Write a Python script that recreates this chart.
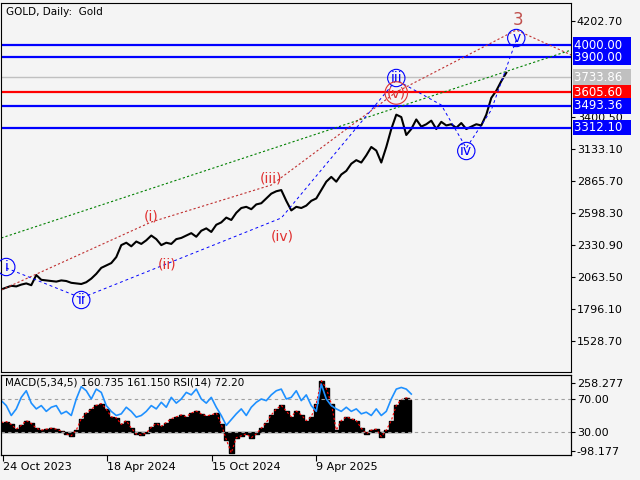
import numpy as np, pandas as pd, matplotlib
matplotlib.use("Agg")
import matplotlib.pyplot as plt, seaborn as sns

price = [1960,1975,1990,1985,2000,2010,1995,2080,2040,2035,2030,
 2025,2035,2030,2015,2010,2005,2020,2050,2090,2140,
 2160,2180,2230,2330,2350,2320,2360,2340,2370,2410,
 2380,2330,2350,2340,2380,2390,2410,2430,2400,2450,
 2470,2440,2500,2520,2560,2540,2600,2640,2650,2630,
 2670,2680,2720,2760,2780,2790,2700,2620,2650,2640,
 2660,2700,2720,2790,2860,2900,2860,2920,2950,3010,
 3040,3020,3080,3150,3120,3020,3150,3300,3420,3400,
 3250,3300,3380,3320,3340,3370,3300,3360,3330,3340,
 3310,3350,3300,3320,3340,3330,3420,3560,3620,3700,3770]
macd = [50,55,40,15,35,60,45,20,10,15,20,15,5,-10,-20,10,70,100,120,140,150,120,80,75,40,60,20,-10,-15,-5,
 25,45,30,50,70,80,90,80,100,110,95,85,90,100,40,-40,-110,-30,-20,-10,-30,-10,20,50,90,120,140,110,80,110,
 90,60,80,150,270,230,150,10,60,80,70,60,20,-10,10,15,-25,10,60,140,170,180,170]
rsi = [68,62,50,58,72,80,65,58,62,55,60,62,52,55,50,70,85,80,70,82,78,62,55,50,52,60,55,48,50,55,
 62,58,66,60,72,65,70,78,75,82,70,65,72,60,50,38,45,52,58,50,60,66,70,68,75,80,82,70,72,80,
 68,75,62,55,88,70,62,58,55,60,55,58,52,54,50,58,50,55,70,82,84,82,76]
hlines = [4000.00, 3900.00, 3605.60, 3493.36, 3312.10]
hcolors = ["#0000ff","#0000ff","#ff0000","#0000ff","#0000ff"]
last_price = 3733.86
yticks = [4202.70, 3400.50, 3133.10, 2865.70, 2598.30, 2330.90, 2063.50, 1796.10, 1528.70]
date_labels = ["24 Oct 2023", "18 Apr 2024", "15 Oct 2024", "9 Apr 2025"]
date_pos = [2, 106, 211, 315]

BG = "#f4f4f4"
def P(ypx):  # pixel row -> price
    return 4202.7 - (ypx - 21) * 8.356

fig = plt.figure(figsize=(6.4, 4.8), dpi=100, facecolor=BG)
ax = fig.add_axes([0.002, 1-372/480, 570/640, 369/480], facecolor=BG)
ax.set_xlim(0, 570); ax.set_ylim(P(372), P(3))
df = pd.DataFrame({"x": np.arange(len(price))*5, "p": price})
sns.lineplot(data=df, x="x", y="p", ax=ax, color="black", lw=1.5)
ax.axhline(last_price, color="#c0c0c0", lw=1)
for v, c in zip(hlines, hcolors):
    ax.axhline(v, color=c, lw=1.6)
def pl(pts, **kw):
    xs=[p[0] for p in pts]; ys=[P(p[1]) for p in pts]; ax.plot(xs, ys, **kw)
pl([(0,238),(570,50)], color="green", ls=(0,(2,2)), lw=0.8)
pl([(0,290),(150,222),(270,185),(395,92),(515,30),(570,55)], color="#c03030", ls=(0,(2,2)), lw=0.8)
pl([(5,268),(80,298),(280,218),(395,80),(440,105),(465,148),(490,110),(515,40)], color="blue", ls=(0,(3,3)), lw=0.7)
def lab(x, y, t, c, circ=False, fs=10):
    kw = dict(boxstyle="circle,pad=0.12", fc="none", ec=c, lw=0.8) if circ else None
    ax.text(x, P(y), t, color=c, ha="center", va="center", fontsize=fs, bbox=kw)
lab(5,267,"i","blue",True); lab(80,300,"ii","blue",True); lab(395,78,"iii","blue",True)
lab(465,151,"iv","blue",True); lab(515,38,"v","blue",True)
lab(150,216,"(i)","#e03030"); lab(166,265,"(ii)","#e03030"); lab(270,178,"(iii)","#e03030")
lab(281,236,"(iv)","#e03030"); lab(395,93,"(v)","#e03030",True)
lab(517,20,"3","#c0504d",fs=12)
ax.text(5, P(12), "GOLD, Daily:  Gold", fontsize=7.5, va="center")
ax.yaxis.tick_right(); ax.set_yticks(yticks)
ax.set_yticklabels([f"{v:.2f}" for v in yticks], fontsize=8)
ax.tick_params(axis="y", length=3, pad=1); ax.set_xticks([])
ax.set_xlabel(""); ax.set_ylabel("")
for v, c in [(4000.00,"#0000ff"),(3900.00,"#0000ff"),(last_price,"#c0c0c0"),(3605.60,"#ff0000"),(3493.36,"#0000ff"),(3312.10,"#0000ff")]:
    ax.text(1.005, v, f"{v:.2f}  ", transform=ax.get_yaxis_transform(), color="white", fontsize=8.5,
            va="center", ha="left", bbox=dict(boxstyle="square,pad=0.12", fc=c, ec="none"))

bx = fig.add_axes([0.002, 1-455/480, 570/640, 80/480], facecolor=BG)
bx.set_xlim(0, 570); bx.set_ylim(-121, 300)
mx = np.arange(len(macd))*5
bx.fill_between(mx, 0, macd, color="black", step="mid")
bx.plot(mx, macd, color="red", ls=(0,(2,2)), lw=0.8)
bx.axhline(0, color="#a0a0a0", ls=(0,(3,3)), lw=0.8)
bx.axhline(174, color="#a0a0a0", ls=(0,(3,3)), lw=0.8)
rx = bx.twinx(); rx.set_ylim(2.1, 99.1)
sns.lineplot(x=np.arange(len(rsi))*5, y=rsi, ax=rx, color="#1e90ff", lw=1.2)
rx.set_yticks([]); rx.set_ylabel("")
bx.yaxis.tick_right()
bx.set_yticks([258.277, 174, 0, -98.177]); bx.set_yticklabels(["258.277","70.00","30.00","-98.177"], fontsize=8)
bx.tick_params(axis="y", length=3, pad=1)
bx.set_xticks(date_pos); bx.set_xticklabels(date_labels, fontsize=8, ha="left")
bx.tick_params(axis="x", length=4, pad=1)
bx.text(4, 258, "MACD(5,34,5) 160.735 161.150 RSI(14) 72.20", fontsize=7.5, va="center")
fig.savefig("out.png", dpi=100, facecolor=BG)
